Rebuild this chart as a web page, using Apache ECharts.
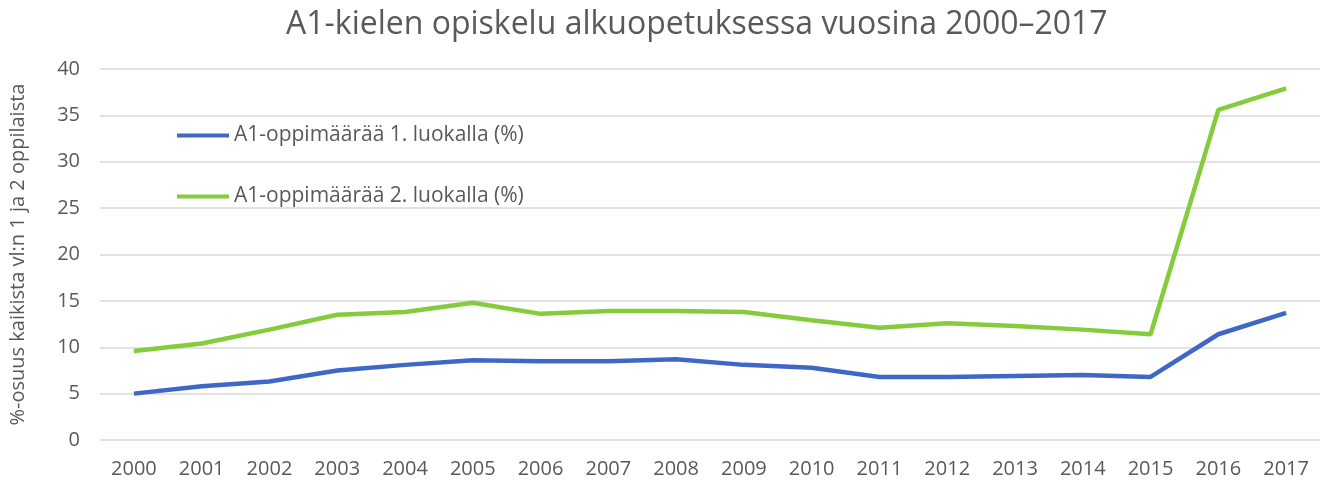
<!DOCTYPE html>
<html>
<head>
<meta charset="utf-8">
<script src="https://cdn.jsdelivr.net/npm/echarts@6/dist/echarts.min.js"></script>
<style>
  html, body { margin: 0; padding: 0; background: #fff; }
  #chart { width: 1321px; height: 484px; }
</style>
</head>
<body>
<div id="chart"></div>
<script>
const years = ['2000', '2001', '2002', '2003', '2004', '2005', '2006', '2007', '2008',
  '2009', '2010', '2011', '2012', '2013', '2014', '2015', '2016', '2017'];
const grade1 = [5.0, 5.8, 6.3, 7.5, 8.1, 8.6, 8.5, 8.5, 8.7, 8.1, 7.8, 6.8, 6.8, 6.9, 7.0, 6.8, 11.4, 13.7];
const grade2 = [9.6, 10.4, 11.9, 13.5, 13.8, 14.8, 13.6, 13.9, 13.9, 13.8, 12.9, 12.1, 12.6, 12.3, 11.9, 11.4, 35.6, 37.9];
const seriesNames = ['A1-oppimäärää 1. luokalla (%)', 'A1-oppimäärää 2. luokalla (%)'];

const textColor = '#595959';
const font = '"Open Sans", sans-serif';

const chart = echarts.init(document.getElementById('chart'));
chart.setOption({
  animation: false,
  textStyle: { fontFamily: font },
  title: {
    text: 'A1-kielen opiskelu alkuopetuksessa vuosina 2000–2017',
    left: 281,
    top: 4,
    textStyle: { color: textColor, fontSize: 32, fontWeight: 'normal', fontFamily: font }
  },
  legend: {
    orient: 'vertical',
    left: 172,
    top: 120,
    itemGap: 40,
    itemWidth: 52,
    itemHeight: 4,
    icon: 'rect',
    textStyle: { color: textColor, fontSize: 21, fontFamily: font },
    data: seriesNames
  },
  grid: {
    left: 100,
    right: 1,
    top: 69,
    bottom: 44
  },
  xAxis: {
    type: 'category',
    data: years,
    boundaryGap: true,
    axisLine: { show: false },
    axisTick: { show: false },
    axisLabel: { color: textColor, fontSize: 20, margin: 19 }
  },
  yAxis: {
    type: 'value',
    min: 0,
    max: 40,
    interval: 5,
    name: '%-osuus kaikista vl:n 1 ja 2 oppilaista',
    nameLocation: 'middle',
    nameGap: 72,
    nameTextStyle: { color: textColor, fontSize: 20, fontFamily: font },
    axisLine: { show: false },
    axisTick: { show: false },
    axisLabel: { color: textColor, fontSize: 20, margin: 20 },
    splitLine: { lineStyle: { color: '#d9d9d9', width: 1.5 } }
  },
  series: [
    {
      name: seriesNames[0],
      type: 'line',
      data: grade1,
      symbol: 'none',
      lineStyle: { color: '#3f68c6', width: 4.5 },
      itemStyle: { color: '#3f68c6' }
    },
    {
      name: seriesNames[1],
      type: 'line',
      data: grade2,
      symbol: 'none',
      lineStyle: { color: '#84cc3c', width: 4.5 },
      itemStyle: { color: '#84cc3c' }
    }
  ]
});
</script>
</body>
</html>
